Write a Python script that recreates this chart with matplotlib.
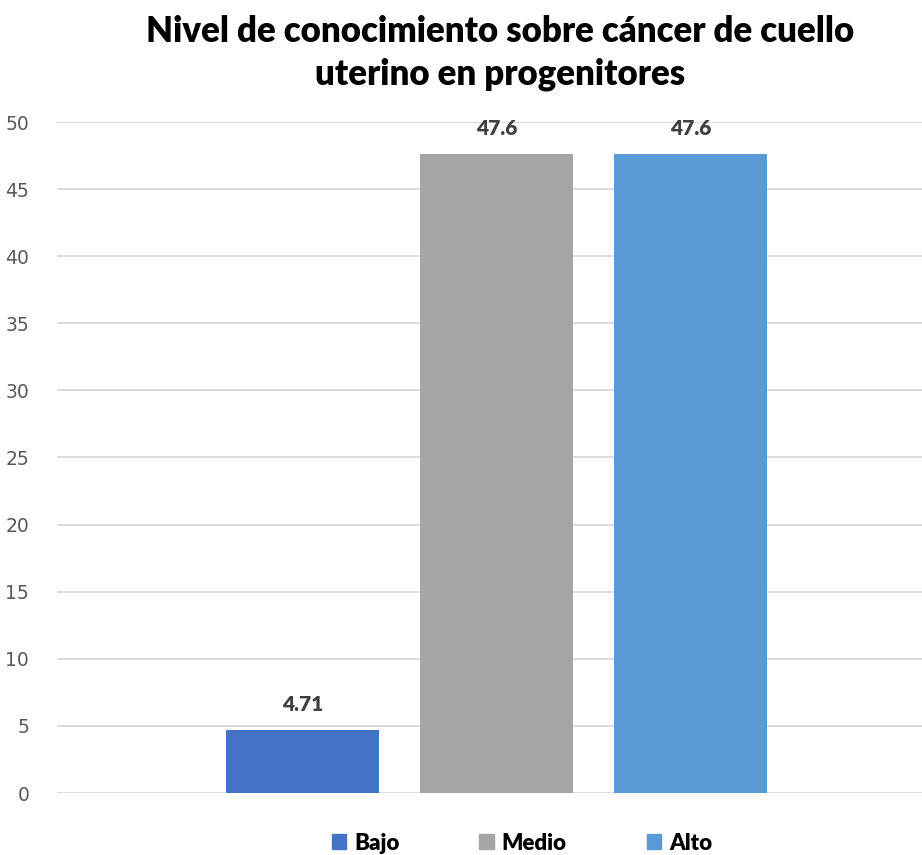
import matplotlib
matplotlib.use('Agg')
import matplotlib.pyplot as plt
from matplotlib.patches import Patch

# datos del gráfico
niveles = ['Bajo', 'Medio', 'Alto']
porcentajes = [4.71, 47.6, 47.6]
etiquetas = ['4.71', '47.6', '47.6']
colores = ['#4472C4', '#A5A5A5', '#5B9BD5']
yticks = [0, 5, 10, 15, 20, 25, 30, 35, 40, 45, 50]

plt.rcParams['font.family'] = ['Lato', 'DejaVu Sans']

fig = plt.figure(figsize=(9.22, 8.55), dpi=100)
ax = fig.add_axes([57 / 922, 1 - 793 / 855, 865 / 922, (793 - 122) / 855])

pos = list(range(len(niveles)))
ax.bar(pos, porcentajes, width=0.789, color=colores, zorder=3)

for x, v, t in zip(pos, porcentajes, etiquetas):
    ax.annotate(t, (x, v), xytext=(0, 16), textcoords='offset pixels',
                ha='center', va='bottom', fontsize=15, fontweight='heavy',
                color='#404040')

ax.set_xlim(-1.2655, 3.193)
ax.set_ylim(0, 50)
ax.set_yticks(yticks)
ax.set_yticklabels([str(v) for v in yticks], family='DejaVu Sans',
                   fontsize=13.5, color='#595959')
ax.set_xticks([])
ax.tick_params(axis='y', length=0, pad=20)
ax.grid(axis='y', color='#D9D9D9', linewidth=1.3, zorder=0)
for s in ax.spines.values():
    s.set_visible(False)

fig.text(0.542, 1 - 53 / 855, 'Nivel de conocimiento sobre cáncer de cuello\nuterino en progenitores',
         ha='center', va='center', fontsize=25, fontweight='heavy',
         linespacing=1.33, color='black')

handles = [Patch(color=c) for c in colores]
fig.legend(handles, niveles, loc='center', bbox_to_anchor=(0.566, 1 - 843 / 855),
           ncol=3, frameon=False, prop={'weight': 'heavy', 'size': 16},
           handlelength=0.65, handleheight=0.65, columnspacing=3.6, handletextpad=0.35)

fig.savefig('out.png', dpi=100)
